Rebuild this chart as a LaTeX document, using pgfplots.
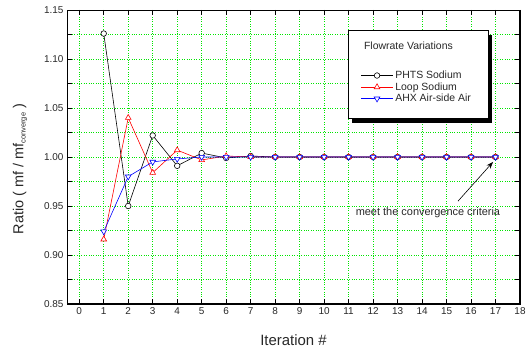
\documentclass[border=0pt]{standalone}
\usepackage{fontspec}
\setmainfont{Liberation Sans}
\usepackage{pgfplots}
\pgfplotsset{compat=1.18}
\usetikzlibrary{shadows,arrows.meta}
\definecolor{gridgreen}{RGB}{0,230,0}
\definecolor{txt}{RGB}{40,40,40}
\begin{document}
\begin{tikzpicture}
\begin{axis}[
  scale only axis, width=453bp, height=294bp,
  xmin=-0.5, xmax=18, ymin=0.85, ymax=1.15,
  xtick={0,1,...,18},
  ytick={0.85,0.90,0.95,1.00,1.05,1.10,1.15},
  minor ytick={0.875,0.925,0.975,1.025,1.075,1.125},
  grid=both,
  major grid style={gridgreen, dotted, line width=0.8pt},
  minor grid style={gridgreen, dotted, line width=0.8pt},
  tick align=inside, tick pos=both,
  major tick length=5bp, minor tick length=5bp,
  every tick/.style={black, line width=0.8pt},
  axis line style={line width=0.8pt},
  /pgf/number format/assume math mode=true,
  ticklabel style={font=\fontsize{10}{12}\selectfont, text=txt},
  yticklabel style={/pgf/number format/fixed, /pgf/number format/fixed zerofill, /pgf/number format/precision=2},
  xlabel={Iteration \#},
  ylabel={Ratio ( mf / mf$_{\mbox{\fontsize{7.5}{8}\selectfont converge}}$ )},
  every axis y label/.style={at={(rel axis cs:0,0.46)}, xshift=-47bp, rotate=90, anchor=center, font=\fontsize{14.5}{16}\selectfont, text=txt},
  every axis x label/.style={at={(rel axis cs:0.5,0)}, yshift=-36bp, anchor=center, font=\fontsize{15}{16}\selectfont, text=txt},
  legend style={at={(rel axis cs:0.648,0.8)}, anchor=north west, draw=none, fill=none,
    font=\fontsize{10.5}{12}\selectfont, text=txt, row sep=-1.5bp, inner sep=0pt},
  legend cell align=left,
  legend image code/.code={\draw[mark repeat=2,mark phase=2] plot coordinates {(0bp,0bp) (16bp,0bp) (32bp,0bp)};},
]
\draw[fill=white, line width=0.6pt, drop shadow={shadow xshift=4bp, shadow yshift=-5bp, fill=black, opacity=1}]
  (rel axis cs:0.62,0.633) rectangle (rel axis cs:0.929,0.932);
\node[anchor=west, font=\fontsize{10.5}{12}\selectfont, text=txt] at (rel axis cs:0.648,0.877) {Flowrate Variations};

\addplot[black, line width=0.6pt, mark=*, mark size=2.8pt, mark options={fill=white, line width=0.6pt}] coordinates {
 (1,1.126) (2,0.950) (3,1.022) (4,0.991) (5,1.004) (6,0.999) (7,1.001) (8,1.000) (9,1.000) (10,1.000)
 (11,1.000) (12,1.000) (13,1.000) (14,1.000) (15,1.000) (16,1.000) (17,1.000)};
\addlegendentry{PHTS Sodium}
\addplot[red, line width=0.6pt, mark=triangle*, mark size=3.3pt, mark options={fill=white, line width=0.6pt}] coordinates {
 (1,0.916) (2,1.040) (3,0.984) (4,1.007) (5,0.997) (6,1.001) (7,1.000) (8,1.000) (9,1.000) (10,1.000)
 (11,1.000) (12,1.000) (13,1.000) (14,1.000) (15,1.000) (16,1.000) (17,1.000)};
\addlegendentry{Loop Sodium}
\addplot[blue, line width=0.6pt, mark=triangle*, mark size=3.3pt, mark options={fill=white, rotate=180, line width=0.6pt}] coordinates {
 (1,0.924) (2,0.980) (3,0.995) (4,0.998) (5,1.000) (6,1.000) (7,1.000) (8,1.000) (9,1.000) (10,1.000)
 (11,1.000) (12,1.000) (13,1.000) (14,1.000) (15,1.000) (16,1.000) (17,1.000)};
\addlegendentry{AHX Air-side Air}

\draw[black, line width=0.6pt, -{Stealth[length=7bp,width=5bp]}] (axis cs:15.47,0.955) -- (axis cs:16.9,0.995);
\node[font=\fontsize{11}{13}\selectfont, text=txt] at (axis cs:14.24,0.943) {meet the convergence criteria};
\draw[line width=1.5pt] (rel axis cs:0,0) -- (rel axis cs:1,0) -- (rel axis cs:1,1);
\end{axis}
\path (-67bp,-48bp) rectangle (462bp,304bp);
\end{tikzpicture}
\end{document}
